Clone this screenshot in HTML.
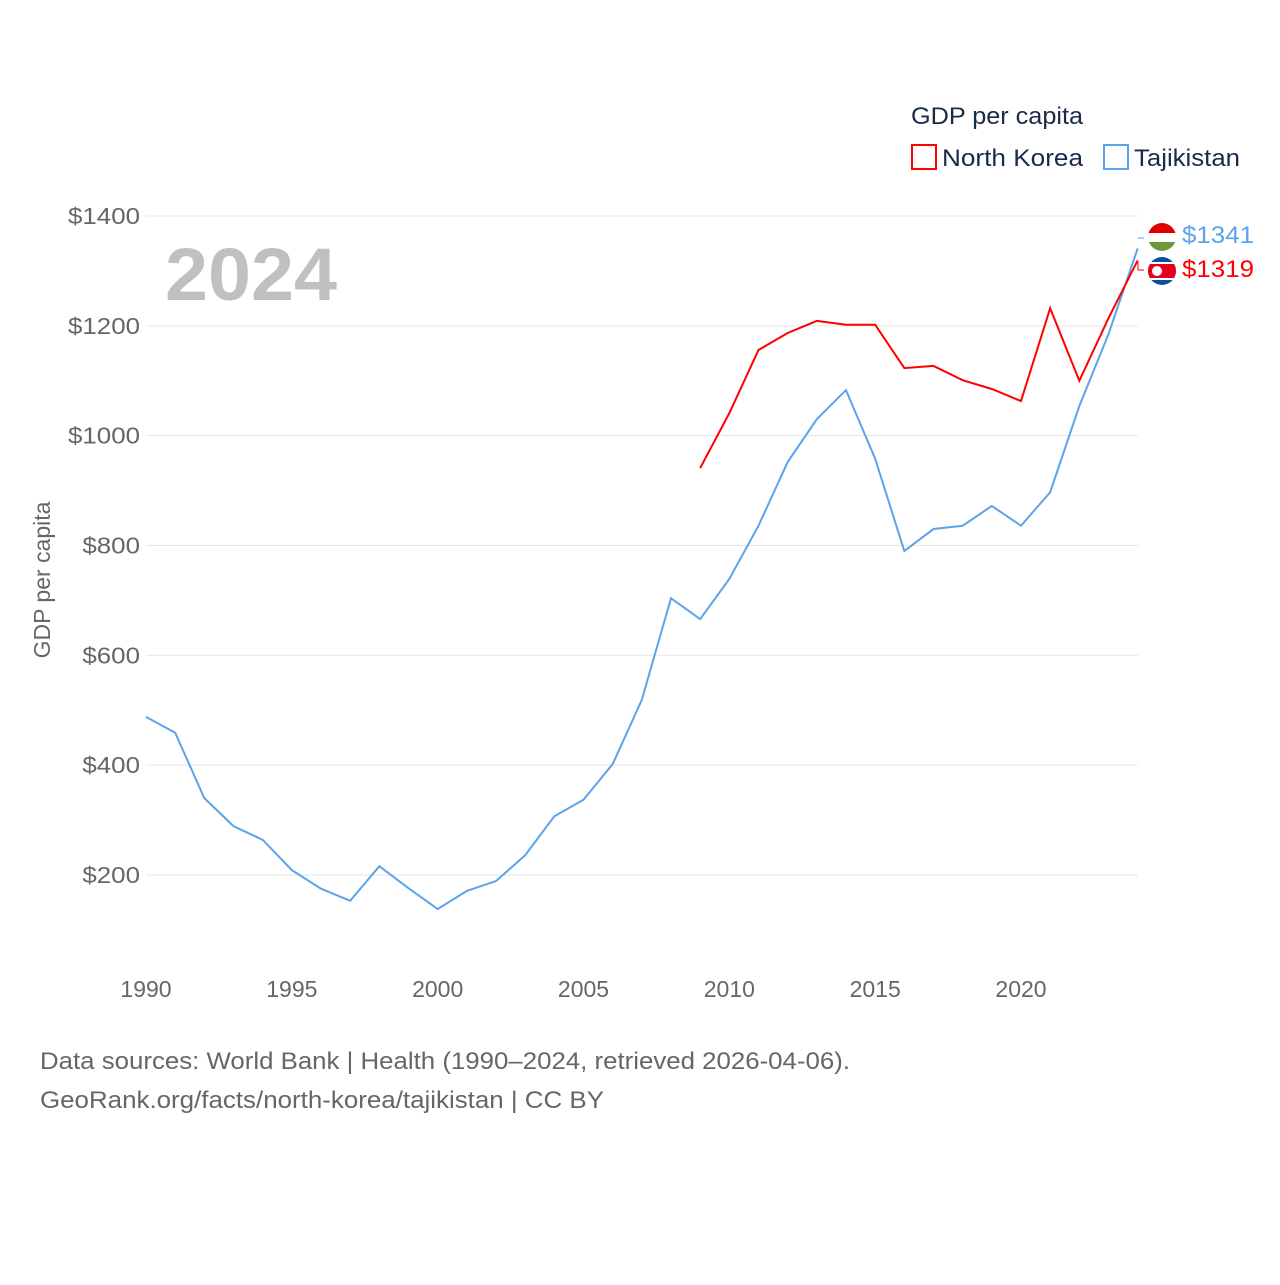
<!DOCTYPE html>
<html><head><meta charset="utf-8">
<style>
html,body{margin:0;padding:0;background:#fff;}
body{width:1280px;height:1280px;overflow:hidden;font-family:"Liberation Sans",sans-serif;}
</style></head>
<body>
<svg id="chart" width="1280" height="1280" xmlns="http://www.w3.org/2000/svg" font-family="Liberation Sans, sans-serif">
<g id="grid"></g>
<g id="yticks"></g>
<g id="xticks"></g>
<text x="165" y="300" font-size="74" font-weight="bold" fill="#c0c0c0" textLength="172" lengthAdjust="spacingAndGlyphs">2024</text>
<text transform="translate(50,580) rotate(-90)" text-anchor="middle" font-size="23" fill="#666">GDP per capita</text>
<g id="series"></g>
<g>
<text x="911" y="124" font-size="24" fill="#1a2a4a" textLength="172" lengthAdjust="spacingAndGlyphs">GDP per capita</text>
<rect x="912" y="145" width="24" height="24" fill="none" stroke="#ff0000" stroke-width="2"/>
<text x="942" y="166" font-size="24" fill="#1a2a4a" textLength="141" lengthAdjust="spacingAndGlyphs">North Korea</text>
<rect x="1104" y="145" width="24" height="24" fill="none" stroke="#5ba3ea" stroke-width="2"/>
<text x="1134" y="166" font-size="24" fill="#1a2a4a" textLength="106" lengthAdjust="spacingAndGlyphs">Tajikistan</text>
</g>
<g id="endlabels">
<g>
<clipPath id="c1"><circle cx="1162" cy="237" r="14"/></clipPath>
<g clip-path="url(#c1)"><rect x="1148" y="223" width="28" height="10" fill="#d00"/><rect x="1148" y="233" width="28" height="9" fill="#fff"/><rect x="1148" y="242" width="28" height="10" fill="#6a9a3a"/></g>
</g>
<g>
<clipPath id="c2"><circle cx="1162" cy="271" r="14"/></clipPath>
<g clip-path="url(#c2)"><rect x="1148" y="257" width="28" height="28" fill="#0b4ea2"/><rect x="1148" y="262" width="28" height="18" fill="#fff"/><rect x="1148" y="264" width="28" height="14" fill="#e3001b"/><circle cx="1157" cy="271" r="5" fill="#fff"/></g>
</g>
<text x="1182" y="243" font-size="24" fill="#5ba3ea" textLength="72" lengthAdjust="spacingAndGlyphs">$1341</text>
<text x="1182" y="277" font-size="24" fill="#ff0000" textLength="72" lengthAdjust="spacingAndGlyphs">$1319</text>
<path d="M1138 238 H1144" stroke="#5ba3ea" fill="none"/>
<path d="M1138 262 V270 H1144" stroke="#ff0000" fill="none"/>
</g>
<text x="40" y="1069" font-size="24" fill="#666" textLength="810" lengthAdjust="spacingAndGlyphs">Data sources: World Bank | Health (1990–2024, retrieved 2026-04-06).</text>
<text x="40" y="1108" font-size="24" fill="#666" textLength="564" lengthAdjust="spacingAndGlyphs">GeoRank.org/facts/north-korea/tajikistan | CC BY</text>
</svg>
<script>
const years=[1990,1991,1992,1993,1994,1995,1996,1997,1998,1999,2000,2001,2002,2003,2004,2005,2006,2007,2008,2009,2010,2011,2012,2013,2014,2015,2016,2017,2018,2019,2020,2021,2022,2023,2024];
const tajikistan=[488,459,340,289,264,209,175,153,216,176,138,171,189,236,307,337,402,519,704,666,739,836,952,1030,1083,958,790,830,836,872,836,897,1054,1185,1341];
const nkYears=[2009,2010,2011,2012,2013,2014,2015,2016,2017,2018,2019,2020,2021,2022,2023,2024];
const northKorea=[941,1041,1156,1187,1209,1202,1202,1123,1127,1101,1085,1063,1232,1100,1214,1319];
const yTicks=[200,400,600,800,1000,1200,1400];
const xTicks=[1990,1995,2000,2005,2010,2015,2020];
const NS="http://www.w3.org/2000/svg";
const X=y=>146+(y-1990)*(1021-146)/30;
const Y=v=>216+(1400-v)*(875-216)/1200;
function mk(t,a,p){const e=document.createElementNS(NS,t);for(const k in a)e.setAttribute(k,a[k]);p.appendChild(e);return e;}
const grid=document.getElementById('grid'),yt=document.getElementById('yticks'),xt=document.getElementById('xticks'),ser=document.getElementById('series');
yTicks.forEach(v=>{
 const l=mk('line',{x1:146,x2:1138,y1:Y(v),y2:Y(v),stroke:'#e6e6e6','stroke-width':1},grid);
 
 
 const s='$'+v;
 const t=mk('text',{x:140,y:Y(v)+8,'text-anchor':'end','font-size':23,fill:'#666',textLength:s.length*14.4,lengthAdjust:'spacingAndGlyphs'},yt);
 t.textContent=s;
 
 
});
xTicks.forEach(v=>{
 const t=mk('text',{x:X(v),y:997,'text-anchor':'middle','font-size':23,fill:'#666'},xt);
 t.textContent=v;
 
 
});
const p1=mk('polyline',{points:years.map((y,i)=>X(y)+','+Y(tajikistan[i])).join(' '),fill:'none',stroke:'#5ba3ea','stroke-width':2},ser);


const p2=mk('polyline',{points:nkYears.map((y,i)=>X(y)+','+Y(northKorea[i])).join(' '),fill:'none',stroke:'#ff0000','stroke-width':2},ser);


</script>
</body></html>
